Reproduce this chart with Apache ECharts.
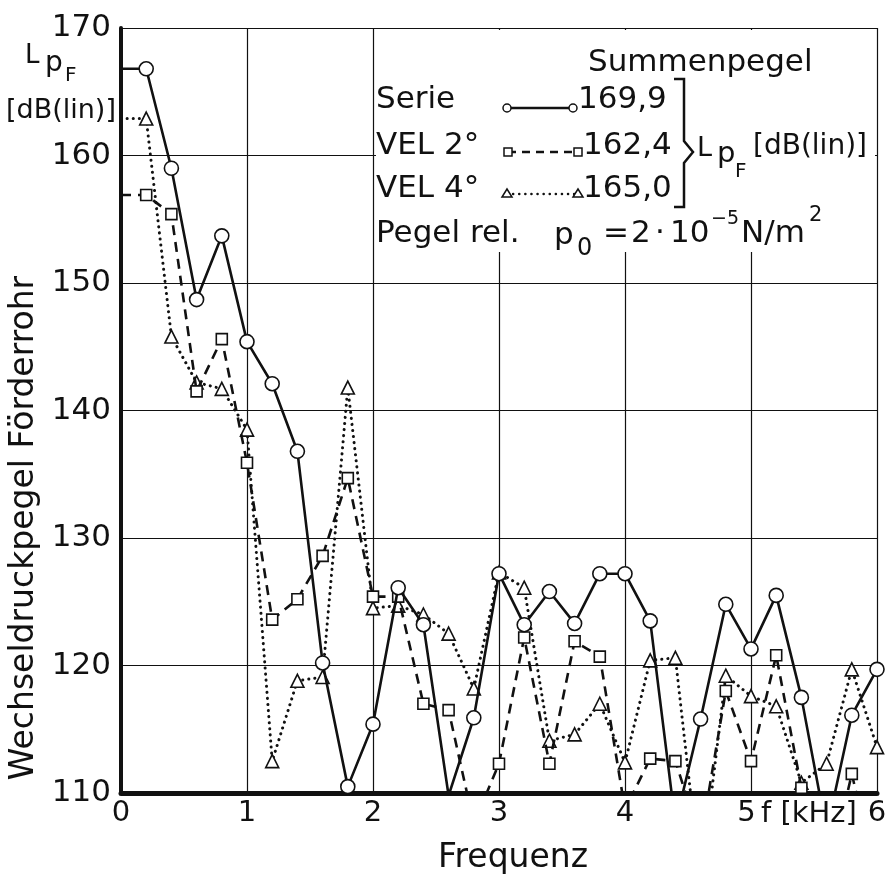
<!DOCTYPE html>
<html>
<head>
<meta charset="utf-8">
<title>Wechseldruckpegel Förderrohr</title>
<script src="https://cdn.jsdelivr.net/npm/echarts@6/dist/echarts.min.js"></script>
<style>
  html, body { margin: 0; padding: 0; background: #fff; }
  #main { width: 894px; height: 881px; }
</style>
</head>
<body>
<div id="main"></div>
<script>
// Frequenz in kHz (Schritt 0,2 kHz)
var freq = [0, 0.2, 0.4, 0.6, 0.8, 1.0, 1.2, 1.4, 1.6, 1.8, 2.0, 2.2, 2.4, 2.6, 2.8, 3.0,
  3.2, 3.4, 3.6, 3.8, 4.0, 4.2, 4.4, 4.6, 4.8, 5.0, 5.2, 5.4, 5.6, 5.8, 6.0];
// Pegel in dB(lin), Werte unter 110 laufen aus dem Bild
var serie = [166.8, 166.8, 159.0, 148.7, 153.7, 145.4, 142.1, 136.8, 120.2, 110.5, 115.4, 126.1, 123.2, 109.8, 115.9, 127.2,
  123.2, 125.8, 123.3, 127.2, 127.2, 123.5, 107.6, 115.8, 124.8, 121.3, 125.5, 117.5, 107.0, 116.1, 119.7];
var vel2 = [156.9, 156.9, 155.4, 141.5, 145.6, 135.9, 123.6, 125.2, 128.6, 134.7, 125.4, 125.4, 117.0, 116.5, 107.6, 112.3,
  122.2, 112.3, 121.9, 120.7, 108.7, 112.7, 112.5, 106.3, 118.0, 112.5, 120.8, 110.4, 103.0, 111.5, 103.0];
var vel4 = [162.9, 162.9, 145.8, 142.2, 141.7, 138.5, 112.5, 118.8, 119.1, 141.8, 124.5, 124.7, 124.0, 122.5, 118.2, 127.3,
  126.1, 114.1, 114.6, 117.0, 112.4, 120.4, 120.6, 103.0, 119.2, 117.6, 116.8, 110.8, 112.3, 119.7, 113.6];

var seriesNames = ["Serie", "VEL 2°", "VEL 4°"];
var summenpegel = ["169,9", "162,4", "165,0"];
var xTicks = [0, 1, 2, 3, 4, 5, 6];
var yTicks = [110, 120, 130, 140, 150, 160, 170];

var FONT = "DejaVu Sans";
var INK = "#111";

// erster Punkt bei f=0 ohne Symbol
function toData(vals) {
  return freq.map(function (f, i) {
    if (i === 0) return { value: [f, vals[i]], symbol: "none" };
    return [f, vals[i]];
  });
}

function txt(text, x, y, size, extra) {
  var el = {
    type: "text", x: x, y: y, z: 20,
    style: { text: text, fill: INK, font: size + "px " + FONT, textAlign: "left", textVerticalAlign: "middle" }
  };
  if (extra) for (var k in extra) el.style[k] = extra[k];
  return el;
}

var markStyle = { fill: "#fff", stroke: INK, lineWidth: 1.5 };

var graphics = [
  // weisser Kasten hinter der Legende
  { type: "rect", z: 15, shape: { x: 376, y: 30, width: 499, height: 222 }, style: { fill: "#fff" } },
  txt("Summenpegel", 588, 63, 31),
  txt(seriesNames[0], 376, 100, 31),
  txt(seriesNames[1], 376, 146, 31),
  txt(seriesNames[2], 376, 189, 31),
  txt(summenpegel[0], 578, 100, 31),
  txt(summenpegel[1], 583, 146, 31),
  txt(summenpegel[2], 583, 189, 31),
  // Legendenlinien
  { type: "line", z: 19, shape: { x1: 507, y1: 108, x2: 573, y2: 108 }, style: { stroke: INK, lineWidth: 2.5 } },
  { type: "circle", z: 20, shape: { cx: 507, cy: 108, r: 4 }, style: markStyle },
  { type: "circle", z: 20, shape: { cx: 573, cy: 108, r: 4 }, style: markStyle },
  { type: "line", z: 19, shape: { x1: 508, y1: 152, x2: 578, y2: 152 }, style: { stroke: INK, lineWidth: 2.5, lineDash: [8, 6] } },
  { type: "rect", z: 20, shape: { x: 504, y: 148, width: 8, height: 8 }, style: markStyle },
  { type: "rect", z: 20, shape: { x: 574, y: 148, width: 8, height: 8 }, style: markStyle },
  { type: "line", z: 19, shape: { x1: 507, y1: 194, x2: 578, y2: 194 }, style: { stroke: INK, lineWidth: 2.5, lineDash: [0.1, 6], lineCap: "round" } },
  { type: "polygon", z: 20, shape: { points: [[507, 189], [502, 197], [512, 197]] }, style: markStyle },
  { type: "polygon", z: 20, shape: { points: [[578, 189], [573, 197], [583, 197]] }, style: markStyle },
  // Klammer
  { type: "polyline", z: 20, shape: { points: [[674, 79], [684, 79], [684, 141], [693, 152], [684, 163], [684, 207], [674, 207]] },
    style: { stroke: INK, lineWidth: 2.5, fill: null } },
  txt("L", 697, 149, 27),
  txt("p", 717, 154, 29),
  txt("F", 735, 172, 20),
  txt("[dB(lin)]", 753, 147, 28),
  // Bezugspegel
  txt("Pegel rel.", 376, 234, 31),
  txt("p", 554, 236, 31),
  txt("0", 577, 249, 24),
  txt("=", 603, 234, 31),
  txt("2", 631, 234, 31),
  txt("·", 655, 234, 31),
  txt("10", 670, 234, 31),
  txt("−5", 711, 219, 19),
  txt("N/m", 741, 234, 31),
  txt("2", 809, 216, 21),
  // Achsbeschriftungen
  txt("L", 25, 56, 26),
  txt("p", 45, 64, 28),
  txt("F", 65, 76, 20),
  txt("[dB(lin)]", 6, 111, 27),
  txt("f [kHz]", 761, 814, 29),
  txt("Frequenz", 513, 858, 33, { textAlign: "center" }),
  { type: "text", x: 24, y: 528, rotation: Math.PI / 2, z: 20,
    style: { text: "Wechseldruckpegel Förderrohr", fill: INK, font: "33px " + FONT, textAlign: "center", textVerticalAlign: "middle" } }
];

var myChart = echarts.init(document.getElementById("main"));
var option = {
  backgroundColor: "#fff",
  animation: false,
  grid: { left: 121, top: 28, right: 17, bottom: 88, containLabel: false },
  xAxis: {
    type: "value", min: xTicks[0], max: xTicks[xTicks.length - 1], interval: 1,
    axisLine: { show: true, onZero: false, lineStyle: { color: INK, width: 5 } },
    axisTick: { show: false },
    splitLine: { show: true, lineStyle: { color: INK, width: 1.2 } },
    axisLabel: {
      color: INK, fontFamily: FONT, fontSize: 29, margin: 6,
      // die 5 steht im Original etwas links vom Strich
      formatter: function (v) { return v === 5 ? "5 " : String(v); }
    }
  },
  yAxis: {
    type: "value", min: yTicks[0], max: yTicks[yTicks.length - 1], interval: 10,
    axisLine: { show: true, onZero: false, lineStyle: { color: INK, width: 4 } },
    axisTick: { show: false },
    splitLine: { show: true, lineStyle: { color: INK, width: 1.2 } },
    axisLabel: { color: INK, fontFamily: FONT, fontSize: 31, margin: 10 }
  },
  series: [
    {
      name: seriesNames[2], type: "line", data: toData(vel4), clip: true, z: 3,
      symbol: "triangle", symbolSize: 13,
      lineStyle: { color: INK, width: 3, type: [0.1, 6], cap: "round" },
      itemStyle: { color: "#fff", borderColor: INK, borderWidth: 1.6 }
    },
    {
      name: seriesNames[1], type: "line", data: toData(vel2), clip: true, z: 4,
      symbol: "rect", symbolSize: 11,
      lineStyle: { color: INK, width: 2.6, type: [10, 7] },
      itemStyle: { color: "#fff", borderColor: INK, borderWidth: 1.6 }
    },
    {
      name: seriesNames[0], type: "line", data: toData(serie), clip: true, z: 5,
      symbol: "circle", symbolSize: 14,
      lineStyle: { color: INK, width: 2.6 },
      itemStyle: { color: "#fff", borderColor: INK, borderWidth: 1.6 }
    }
  ],
  graphic: graphics
};
myChart.setOption(option);
</script>
</body>
</html>
